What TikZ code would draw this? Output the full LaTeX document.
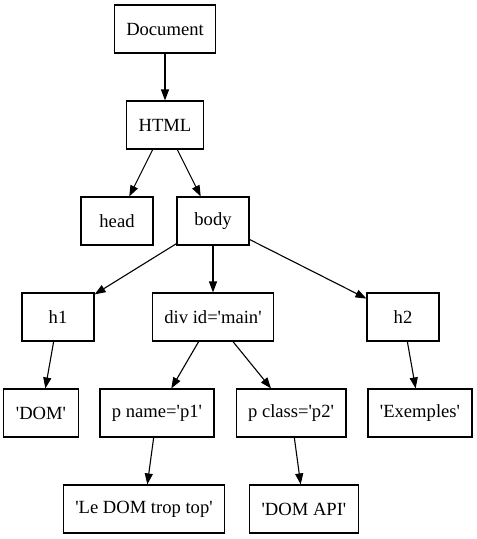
\documentclass[tikz,border=0pt]{standalone}
\usepackage{fontspec}
\setmainfont{Liberation Serif}
\usetikzlibrary{arrows.meta}
\newcommand{\sq}{\textquotesingle}

\begin{document}
\begin{tikzpicture}[
    x=1pt, y=-1pt,
    tag/.style={rectangle, draw=black, line width=1.1pt, minimum width=72pt, minimum height=48pt, inner xsep=12pt, text centered, font=\fontsize{18.6}{22}\selectfont},
    arrow/.style={-{Triangle[length=11pt,width=8pt]}, line width=1.1pt}
]
    \useasboundingbox (0,0) rectangle (477,539);

    % Level 0: document root
    \node[tag] (doc) at (165,29) {Document};

    % Level 1: html element
    \node[tag] (html) at (165,125) {HTML};

    % Level 2: head and body
    \node[tag] (head) at (117,221) {head};
    \node[tag] (body) at (213,221) {body};

    % Level 3: children of body
    \node[tag] (h1) at (58,317) {h1};
    \node[tag] (div) at (213,317) {div id=\sq main\sq};
    \node[tag] (h2) at (403,317) {h2};

    % Level 4: text and paragraphs
    \node[tag] (txtdom) at (41,413) {\sq DOM\sq};
    \node[tag] (pone) at (157,413) {p name=\sq p1\sq};
    \node[tag] (ptwo) at (291,413) {p class=\sq p2\sq};
    \node[tag] (txtex) at (420,413) {\sq Exemples\sq};

    % Level 5: paragraph texts
    \node[tag] (txtle) at (144,509) {\sq Le DOM trop top\sq};
    \node[tag] (txtapi) at (304,509) {\sq DOM API\sq};

    % Arrows - parent to child
    \draw[arrow] (doc) -- (html);
    \draw[arrow] (html) -- (head);
    \draw[arrow] (html) -- (body);
    \draw[arrow] (body) -- (h1);
    \draw[arrow] (body) -- (div);
    \draw[arrow] (body) -- (h2);
    \draw[arrow] (h1) -- (txtdom);
    \draw[arrow] (div) -- (pone);
    \draw[arrow] (div) -- (ptwo);
    \draw[arrow] (h2) -- (txtex);
    \draw[arrow] (pone) -- (txtle);
    \draw[arrow] (ptwo) -- (txtapi);
\end{tikzpicture}
\end{document}
